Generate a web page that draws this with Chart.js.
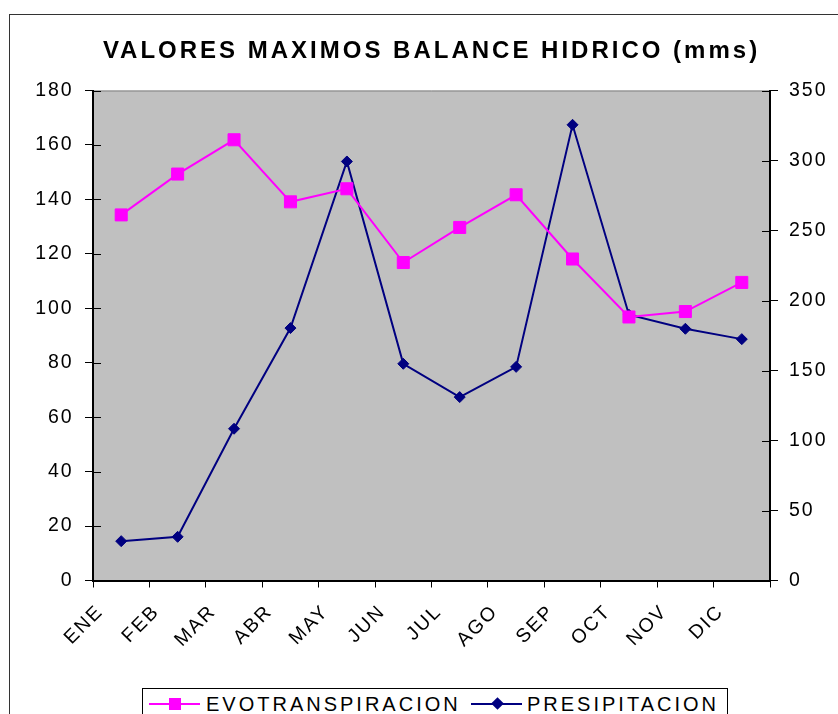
<!DOCTYPE html>
<html>
<head>
<meta charset="utf-8">
<title>Valores maximos balance hidrico</title>
<script src="https://cdn.jsdelivr.net/npm/chart.js@4.4.0/dist/chart.umd.min.js"></script>
<style>
  html, body { margin: 0; padding: 0; background: #fff; }
  #wrap { position: relative; width: 838px; height: 714px; overflow: hidden; font-family: Arial, "Liberation Sans", sans-serif; color: #000; }
  #frame { position: absolute; left: 9px; top: 14px; width: 900px; height: 800px; border: 1px solid #333; }
  #chart { position: absolute; left: 0; top: 0; }
  #titulo { position: absolute; left: 0; top: 38px; width: 863px; text-align: center; font-weight: bold; font-size: 24px; line-height: 24px; letter-spacing: 3px; white-space: nowrap; }
  #leyenda { position: absolute; left: 142px; top: 688px; width: 584px; height: 40px; border: 1px solid #000; background: #fff; }
  #leyenda .linea { position: absolute; top: 13.7px; width: 51px; height: 2px; }
  #leyenda .marca { position: absolute; }
  #leyenda .texto { position: absolute; top: 4.8px; font-size: 20px; line-height: 20px; letter-spacing: 3px; white-space: nowrap; }
</style>
</head>
<body>
<div id="wrap">
  <div id="frame"></div>
  <canvas id="chart" width="838" height="714"></canvas>
  <div id="titulo">VALORES MAXIMOS BALANCE HIDRICO (mms)</div>
  <div id="leyenda">
    <div class="linea" style="left:6.3px; background:#ff00ff;"></div>
    <div class="marca" style="left:25.5px; top:8.7px; width:12px; height:12px; background:#ff00ff;"></div>
    <div class="texto" style="left:63px;">EVOTRANSPIRACION</div>
    <div class="linea" style="left:328px; background:#000080;"></div>
    <div class="marca" style="left:349.5px; top:10.2px; width:9px; height:9px; background:#000080; transform:rotate(45deg);"></div>
    <div class="texto" style="left:384px;">PRESIPITACION</div>
  </div>
</div>
<script>
const meses = ['ENE', 'FEB', 'MAR', 'ABR', 'MAY', 'JUN', 'JUL', 'AGO', 'SEP', 'OCT', 'NOV', 'DIC'];
const evotranspiracion = [134.3, 149.3, 161.9, 139.1, 143.9, 116.8, 129.7, 141.7, 118.1, 96.8, 98.8, 109.5];
const presipitacion = [28.1, 31.2, 108.4, 180.3, 299.3, 154.8, 131.0, 152.6, 325.5, 189.8, 179.8, 172.4];
const ejeIzq = { min: 0, max: 180, paso: 20 };
const ejeDer = { min: 0, max: 350, paso: 50 };

const fuenteEje = { family: 'Arial, "Liberation Sans", sans-serif', size: 19.5 };

// fondo gris del area de trazado, borde superior y marcas hacia adentro
const marcoPlot = {
  id: 'marcoPlot',
  beforeLayout(chart) {
    chart.ctx.letterSpacing = '2px';
  },
  beforeDraw(chart) {
    const ctx = chart.ctx;
    const a = chart.chartArea;
    ctx.letterSpacing = '2px';
    ctx.save();
    ctx.fillStyle = '#c0c0c0';
    ctx.fillRect(a.left, a.top, a.right - a.left, a.bottom - a.top);
    ctx.strokeStyle = '#808080';
    ctx.lineWidth = 1;
    ctx.beginPath();
    ctx.moveTo(a.left, a.top + 0.5);
    ctx.lineTo(a.right, a.top + 0.5);
    ctx.stroke();
    ctx.restore();
  },
  beforeDatasetsDraw(chart) {
    const ctx = chart.ctx;
    const a = chart.chartArea;
    ctx.save();
    ctx.strokeStyle = '#000';
    ctx.lineWidth = 1;
    ctx.beginPath();
    chart.scales.y.ticks.forEach(t => {
      const py = Math.round(chart.scales.y.getPixelForValue(t.value)) + 0.5;
      ctx.moveTo(a.left, py);
      ctx.lineTo(a.left + 8, py);
    });
    chart.scales.y2.ticks.forEach(t => {
      const py = Math.round(chart.scales.y2.getPixelForValue(t.value)) + 0.5;
      ctx.moveTo(a.right, py);
      ctx.lineTo(a.right - 8, py);
    });
    ctx.stroke();
    ctx.restore();
  }
};

new Chart(document.getElementById('chart'), {
  type: 'line',
  data: {
    labels: meses,
    datasets: [
      {
        label: 'EVOTRANSPIRACION',
        data: evotranspiracion,
        yAxisID: 'y',
        borderColor: '#ff00ff',
        backgroundColor: '#ff00ff',
        borderWidth: 2,
        pointStyle: 'rect',
        pointRadius: 8.5,
        pointBorderWidth: 1,
        tension: 0
      },
      {
        label: 'PRESIPITACION',
        data: presipitacion,
        yAxisID: 'y2',
        borderColor: '#000080',
        backgroundColor: '#000080',
        borderWidth: 2,
        pointStyle: 'rectRot',
        pointRadius: 5.5,
        pointBorderWidth: 1,
        tension: 0
      }
    ]
  },
  options: {
    responsive: false,
    animation: false,
    layout: { padding: { top: 90.5, left: 0, right: 0, bottom: 0 } },
    plugins: { legend: { display: false }, title: { display: false }, tooltip: { enabled: false } },
    scales: {
      x: {
        offset: true,
        grid: { offset: true, drawOnChartArea: false, tickLength: 7, color: '#000', lineWidth: 1 },
        border: { color: '#000', width: 2 },
        ticks: { autoSkip: false, minRotation: 45, maxRotation: 45, labelOffset: -21, padding: 12.8, color: '#000', font: fuenteEje },
        afterFit(s) { s.height = 133.5; }
      },
      y: {
        position: 'left',
        min: ejeIzq.min,
        max: ejeIzq.max,
        grid: { drawOnChartArea: false, tickLength: 8, color: '#000', lineWidth: 1 },
        border: { color: '#000', width: 2 },
        ticks: { stepSize: ejeIzq.paso, padding: 11.3, color: '#000', font: fuenteEje },
        afterFit(s) { s.width = 93; }
      },
      y2: {
        position: 'right',
        min: ejeDer.min,
        max: ejeDer.max,
        grid: { drawOnChartArea: false, tickLength: 8, color: '#000', lineWidth: 1 },
        border: { color: '#000', width: 2 },
        ticks: { stepSize: ejeDer.paso, padding: 11, color: '#000', font: fuenteEje },
        afterFit(s) { s.width = 68; }
      }
    }
  },
  plugins: [marcoPlot]
});
</script>
</body>
</html>
